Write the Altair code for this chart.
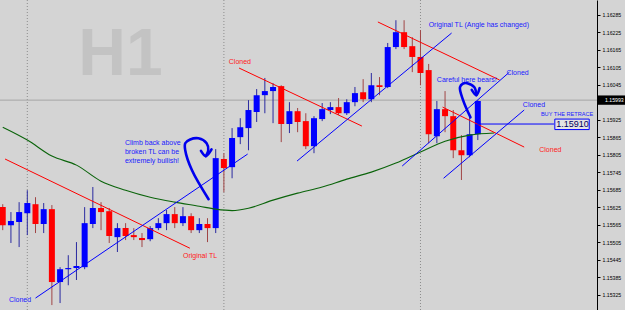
import altair as alt
import pandas as pd

# ---------------- candle data (H1 bars, index 0..58) ----------------
opens = [1.15626, 1.15564, 1.15575, 1.15605, 1.15636, 1.15568, 1.15619, 1.15369, 1.15413, 1.15417,
         1.15420, 1.15568, 1.15623, 1.15612, 1.15523, 1.15554, 1.15530, 1.15520, 1.15516, 1.15554,
         1.15571, 1.15602, 1.15571, 1.15595, 1.15547, 1.15568, 1.15554, 1.15791, 1.15763, 1.15866,
         1.15897, 1.15952, 1.16010, 1.16024, 1.16041, 1.15911, 1.15955, 1.15921, 1.15835, 1.15928,
         1.15959, 1.15969, 1.15948, 1.15986, 1.16020, 1.15996, 1.16044, 1.16038, 1.16175, 1.16226,
         1.16178, 1.16141, 1.16096, 1.15869, 1.15962, 1.15938, 1.15821, 1.15804, 1.15876]
highs = [1.15636, 1.15609, 1.15643, 1.15684, 1.15660, 1.15640, 1.15633, 1.15420, 1.15461, 1.15506,
         1.15626, 1.15695, 1.15643, 1.15623, 1.15571, 1.15571, 1.15554, 1.15537, 1.15561, 1.15588,
         1.15616, 1.15626, 1.15626, 1.15605, 1.15588, 1.15588, 1.15825, 1.15811, 1.15897, 1.15931,
         1.15993, 1.16031, 1.16069, 1.16051, 1.16044, 1.15986, 1.15966, 1.15948, 1.15938, 1.15983,
         1.15986, 1.16000, 1.15996, 1.16038, 1.16065, 1.16086, 1.16072, 1.16189, 1.16267, 1.16267,
         1.16209, 1.16233, 1.16117, 1.15990, 1.16024, 1.15959, 1.15873, 1.15942, 1.15993]
lows = [1.15547, 1.15503, 1.15489, 1.15530, 1.15537, 1.15537, 1.15290, 1.15297, 1.15358, 1.15376,
        1.15413, 1.15554, 1.15547, 1.15503, 1.15472, 1.15513, 1.15513, 1.15489, 1.15509, 1.15547,
        1.15547, 1.15554, 1.15561, 1.15537, 1.15537, 1.15506, 1.15537, 1.15677, 1.15725, 1.15842,
        1.15821, 1.15918, 1.15948, 1.15914, 1.15849, 1.15880, 1.15883, 1.15825, 1.15811, 1.15921,
        1.15945, 1.15942, 1.15942, 1.15972, 1.15986, 1.15986, 1.16010, 1.16034, 1.16168, 1.16168,
        1.16089, 1.16044, 1.15845, 1.15845, 1.15883, 1.15794, 1.15719, 1.15797, 1.15856]
closes = [1.15564, 1.15578, 1.15609, 1.15640, 1.15568, 1.15619, 1.15369, 1.15413, 1.15417, 1.15424,
          1.15571, 1.15623, 1.15609, 1.15527, 1.15554, 1.15527, 1.15523, 1.15513, 1.15554, 1.15571,
          1.15602, 1.15571, 1.15595, 1.15547, 1.15568, 1.15554, 1.15794, 1.15760, 1.15863, 1.15900,
          1.15959, 1.16010, 1.16024, 1.16038, 1.15911, 1.15955, 1.15918, 1.15835, 1.15931, 1.15962,
          1.15969, 1.15948, 1.15986, 1.16017, 1.15996, 1.16044, 1.16038, 1.16175, 1.16226, 1.16175,
          1.16141, 1.16086, 1.15876, 1.15962, 1.15938, 1.15821, 1.15804, 1.15876, 1.15990]
bars = list(range(len(opens)))

# moving average (green)
ma_bars = [0, 3, 6, 9, 12, 15, 18, 21, 24, 26, 28, 30, 33, 36, 39, 42, 45, 48, 51, 54, 57, 60]
ma_vals = [1.15900, 1.15856, 1.15801, 1.15770, 1.15715, 1.15684, 1.15660, 1.15643, 1.15629, 1.15619,
           1.15614, 1.15622, 1.15650, 1.15674, 1.15695, 1.15722, 1.15746, 1.15777, 1.15815, 1.15852,
           1.15873, 1.15880]

# day separators (bar index)
sep_bars = [3, 27, 51]
current_price = 1.15993

# price axis labels
tick_vals = [1.15325, 1.15385, 1.15445, 1.15505, 1.15565, 1.15625, 1.15685, 1.15745, 1.15805,
             1.15865, 1.15925, 1.16045, 1.16105, 1.16165, 1.16225, 1.16285]

# trend lines
tl_x1 = [0.28, 28.85, 45.8, 53.7, 4.0, 35.93, 48.77, 53.82, 57.9]
tl_y1 = [1.15791, 1.16103, 1.16261, 1.15969, 1.15314, 1.15784, 1.15767, 1.15725, 1.15911]
tl_x2 = [22.85, 43.85, 60.66, 63.66, 29.9, 54.8, 61.86, 63.66, 67.3]
tl_y2 = [1.15485, 1.15904, 1.16062, 1.15832, 1.15808, 1.16223, 1.16089, 1.15959, 1.15911]
tl_col = ["#ff0000"] * 4 + ["#0000ff"] * 5

# text labels
lab_text = ["Original TL", "Cloned", "Cloned", "Cloned", "Original TL (Angle has changed)",
            "Cloned", "Cloned", "BUY THE RETRACE", "Careful here bears!",
            "Climb back above", "broken TL can be", "extremely bullish!"]
lab_x = [22.0, 27.6, 65.5, 0.76, 52.0, 61.5, 63.5, 65.7, 53.0, 14.92, 14.92, 14.92]
lab_y = [1.15458, 1.16123, 1.15821, 1.15307, 1.16250, 1.16086, 1.15976, 1.15945, 1.16062,
         1.15845, 1.15815, 1.15784]
lab_col = ["#ff2020", "#ff2020", "#ff2020"] + ["#2020ff"] * 9
lab_size = [7, 7, 7, 7, 7, 7, 7, 5.6, 7, 7, 7, 7]

# price label box
box_text = "1.15910"
box_price = 1.15910
box_x1 = 67.4
box_x2 = 71.6

# hand drawn arrows
arr_id = ["a1"] * 9 + ["h1"] * 3 + ["a2"] * 7 + ["h2"] * 3
arr_x = [25.13, 23.09, 22.28, 22.28, 22.88, 23.89, 24.89, 25.09, 24.80,
         24.20, 24.80, 25.49,
         57.1, 56.2, 55.82, 56.2, 56.7, 57.58, 57.82,
         57.26, 57.82, 58.22]
arr_y = [1.15653, 1.15753, 1.15821, 1.15845, 1.15858, 1.15862, 1.15845, 1.15821, 1.15801,
         1.15819, 1.15801, 1.15824,
         1.15934, 1.15993, 1.16037, 1.16050, 1.16051, 1.16037, 1.16010,
         1.16028, 1.16010, 1.16034]

# ---------------- build ----------------
W, H = 597, 310
xs = alt.Scale(domain=[0.276, 71.94], nice=False, zero=False)
ys = alt.Scale(domain=[1.152731, 1.163364], nice=False, zero=False)
BG = "#d4d4d4"
FONT = "Liberation Sans"

yaxis = alt.Axis(orient="right", values=tick_vals, format=".5f", grid=False, title=None,
                 domainColor="black", domainWidth=1, tickColor="black", tickSize=3,
                 labelFontSize=5.2, labelColor="black", labelFont=FONT, labelPadding=2,
                 labelOverlap=False, labelFlush=False)

candles = pd.DataFrame({"bar": bars, "open": opens, "high": highs, "low": lows, "close": closes})
ma = pd.DataFrame({"bar": ma_bars, "ma": ma_vals})
seps = pd.DataFrame({"bar": sep_bars})
tls = pd.DataFrame({"x1": tl_x1, "y1": tl_y1, "x2": tl_x2, "y2": tl_y2, "c": tl_col})
labs = pd.DataFrame({"x": lab_x, "y": lab_y, "t": lab_text, "c": lab_col, "s": lab_size})
arrows = pd.DataFrame({"id": arr_id, "x": arr_x, "y": arr_y, "o": list(range(len(arr_x)))})
cur = pd.DataFrame({"p": [current_price], "t": [f"{current_price:.5f}"]})
box = pd.DataFrame({"x1": [box_x1], "x2": [box_x2], "p": [box_price], "t": [box_text]})
wm = pd.DataFrame({"x": [14.38], "y": [1.16079], "t": ["H1"]})

X = lambda f: alt.X(f, scale=xs, axis=None)
Y = lambda f: alt.Y(f, scale=ys, axis=yaxis)

watermark = alt.Chart(wm).mark_text(font=FONT, fontSize=66, fontWeight="bold", color="#c3c3c3",
                                     align="center", baseline="alphabetic").encode(
    x=X("x:Q"), y=Y("y:Q"), text="t:N")

sep = alt.Chart(seps).mark_rule(color="#8c8c8c", strokeDash=[1, 2], strokeWidth=1).encode(x=X("bar:Q"))

price_line = alt.Chart(cur).mark_rule(color="#a6a6a6", strokeWidth=1).encode(y=Y("p:Q"))

wick = alt.Chart(candles).mark_rule(strokeWidth=1, clip=True).encode(
    x=X("bar:Q"), y=Y("low:Q"), y2="high:Q",
    color=alt.condition("datum.close >= datum.open", alt.value("#2a2aa0"), alt.value("#a04545")))

body = alt.Chart(candles).mark_bar(size=6, clip=True).encode(
    x=X("bar:Q"), y=Y("open:Q"), y2="close:Q",
    color=alt.condition("datum.close >= datum.open", alt.value("#0000ff"), alt.value("#ff0000")))

ma_line = alt.Chart(ma).mark_line(color="#0b640b", strokeWidth=1.1, interpolate="monotone", clip=True).encode(
    x=X("bar:Q"), y=Y("ma:Q"))

trend = alt.Chart(tls).mark_rule(strokeWidth=1, clip=True).encode(
    x=X("x1:Q"), y=Y("y1:Q"), x2="x2:Q", y2="y2:Q", color=alt.Color("c:N", scale=None))

hand = alt.Chart(arrows).mark_line(color="#0000ee", strokeWidth=2.6, strokeCap="round",
                                   strokeJoin="round", interpolate="catmull-rom").encode(
    x=X("x:Q"), y=Y("y:Q"), detail="id:N", order="o:Q")

labels = alt.Chart(labs).mark_text(font=FONT, align="left", baseline="middle").encode(
    x=X("x:Q"), y=Y("y:Q"), text="t:N", color=alt.Color("c:N", scale=None),
    size=alt.Size("s:Q", scale=None))

box_rect = alt.Chart(box).transform_calculate(
    top="datum.p + 0.00018", bot="datum.p - 0.00018").mark_rect(
    fill="#e4e4e4", stroke="#0000ff", strokeWidth=1).encode(
    x=X("x1:Q"), x2="x2:Q", y=Y("top:Q"), y2="bot:Q")
box_text_l = alt.Chart(box).mark_text(font=FONT, fontSize=9, color="#000060", align="left",
                                      baseline="middle", dx=1.5).encode(
    x=X("x1:Q"), y=Y("p:Q"), text="t:N")

tag = alt.Chart(cur).transform_calculate(
    top="datum.p + 0.00016", bot="datum.p - 0.00016").mark_rect(color="black", clip=False).encode(
    x=alt.value(598), x2=alt.value(625), y=Y("top:Q"), y2="bot:Q")
tag_text = alt.Chart(cur).mark_text(font=FONT, fontSize=5.2, color="white", align="left",
                                    baseline="middle").encode(
    x=alt.value(605), y=Y("p:Q"), text="t:N")

chart = alt.layer(
    watermark, sep, price_line, wick, body, ma_line, trend, hand, labels,
    box_rect, box_text_l, tag, tag_text
).properties(
    width=W, height=H,
    padding={"left": 0, "right": 28, "top": 0, "bottom": 0},
    autosize=alt.AutoSizeParams(type="none"),
    background=BG
).configure_view(stroke=None, fill=BG)

chart.save("out.html", embed_options={"renderer": "svg", "actions": False})
